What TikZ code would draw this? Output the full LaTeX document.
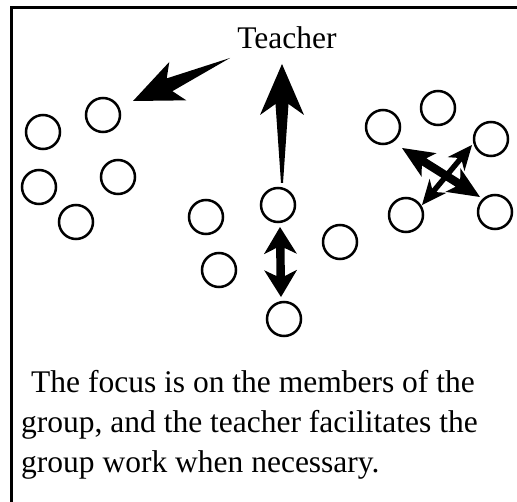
\documentclass[tikz,border=0pt]{standalone}
\usepackage{fontspec}
\setmainfont{Liberation Serif}
\usetikzlibrary{calc}
% tapered single arrow: #1 tail, #2 tip, #3 barb distance from tip, #4 notch distance from tip,
% #5 barb half width, #6 notch half width, #7 tail half width
\newcommand\SglArrow[7]{%
  \fill[arrowfill] ($(#1)!#7!90:(#2)$) -- ($(#2)!#4!(#1)!#6!-90:(#1)$) -- ($(#2)!#3!(#1)!#5!-90:(#1)$)
    -- (#2) -- ($(#2)!#3!(#1)!#5!90:(#1)$) -- ($(#2)!#4!(#1)!#6!90:(#1)$) -- ($(#1)!#7!-90:(#2)$) -- cycle;}
% double arrow: #1 tip A, #2 tip B, #3 barb distance, #4 notch distance, #5 barb half width, #6 shaft half width
\newcommand\DblArrow[6]{%
  \fill[arrowfill] (#1) -- ($(#1)!#3!(#2)!#5!90:(#2)$) -- ($(#1)!#4!(#2)!#6!90:(#2)$)
    -- ($(#2)!#4!(#1)!#6!-90:(#1)$) -- ($(#2)!#3!(#1)!#5!-90:(#1)$) -- (#2)
    -- ($(#2)!#3!(#1)!#5!90:(#1)$) -- ($(#2)!#4!(#1)!#6!90:(#1)$)
    -- ($(#1)!#4!(#2)!#6!-90:(#2)$) -- ($(#1)!#3!(#2)!#5!-90:(#2)$) -- cycle;}
\begin{document}
\begin{tikzpicture}[x=1bp,y=-1bp,
  person/.style={circle,draw,line width=2.5bp,minimum size=34bp,inner sep=0pt},
  frameline/.style={line width=2.8bp},
  txt/.style={font=\fontsize{31.5bp}{40bp}\selectfont,inner sep=0pt},
  arrowfill/.style={fill=black}]
\useasboundingbox (0,0) rectangle (517,502);
\fill[white] (0,0) rectangle (517,502);
\draw[frameline] (11.3,502) -- (11.3,7.5) -- (517,7.5);

% left group
\node[person] (c1) at (43,132) {};
\node[person] (c2) at (103,115) {};
\node[person] (c3) at (39,187) {};
\node[person] (c4) at (118,177) {};
\node[person] (c5) at (76,222) {};
% middle group
\node[person] (c6) at (206,217) {};
\node[person] (c7) at (278,205) {};
\node[person] (c8) at (219,270) {};
\node[person] (c9) at (340,242) {};
\node[person] (c10) at (284,319) {};
% right group
\node[person] (c11) at (383,127) {};
\node[person] (c12) at (438,108) {};
\node[person] (c13) at (491,139) {};
\node[person] (c14) at (406,215) {};
\node[person] (c15) at (495,212) {};

\node[txt,anchor=base] (teacher) at (287,49) {Teacher};

% arrow end points
\coordinate (a1s) at (230,58);  \coordinate (a1e) at (133,101);
\coordinate (a2s) at (282,183); \coordinate (a2e) at (282,64);
\coordinate (a3s) at (280,227); \coordinate (a3e) at (281,297);
\coordinate (a4s) at (402,148); \coordinate (a4e) at (480,197);
\coordinate (a5s) at (472,145); \coordinate (a5e) at (422,205);

\SglArrow{a1s}{a1e}{49bp}{40bp}{21bp}{7bp}{0bp}
\SglArrow{a2s}{a2e}{51bp}{40bp}{22bp}{6.5bp}{1bp}
\DblArrow{a3s}{a3e}{27bp}{21bp}{16.5bp}{4.2bp}
\DblArrow{a4s}{a4e}{32bp}{26bp}{14bp}{4.2bp}
\DblArrow{a5s}{a5e}{25bp}{19bp}{11bp}{2.7bp}

\node[txt,anchor=base west] (t1) at (31,392) {The focus is on the members of the};
\node[txt,anchor=base west] (t2) at (21,432) {group, and the teacher facilitates the};
\node[txt,anchor=base west] (t3) at (21,472) {group work when necessary.};
\end{tikzpicture}
\end{document}
